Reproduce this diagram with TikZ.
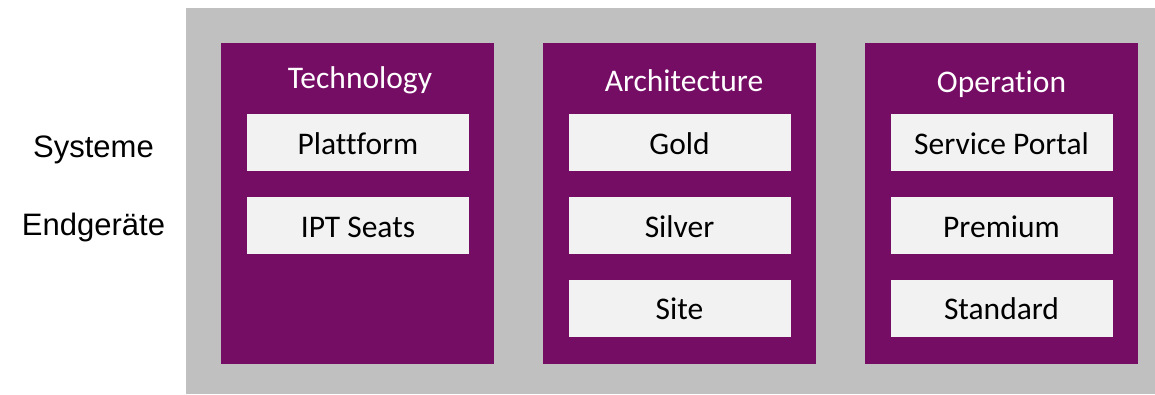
\documentclass[tikz,border=0pt]{standalone}
\usepackage{fontspec}
\setmainfont{Carlito}[Ligatures={NoCommon}]
\newfontfamily\arialfont{Liberation Sans}
\definecolor{bggray}{RGB}{192,192,192}
\definecolor{purp}{RGB}{118,13,101}
\definecolor{lightbox}{RGB}{242,242,242}
\begin{document}
\begin{tikzpicture}[x=1pt,y=-1pt,
  panel/.style={fill=purp, draw=none, inner sep=0pt, minimum width=273pt, minimum height=321pt},
  item/.style={fill=lightbox, draw=none, inner sep=0pt, minimum width=222pt, minimum height=57pt,
    font=\fontsize{31.5}{38}\selectfont, text height=23pt, text depth=0pt},
  title/.style={text=white, font=\fontsize{31.5}{38}\selectfont, anchor=base, inner sep=0pt},
  side/.style={font=\arialfont\fontsize{31}{37}\selectfont, anchor=base, inner sep=0pt}]
\useasboundingbox (0,0) rectangle (1155,394);
\node[fill=bggray, inner sep=0pt, minimum width=969pt, minimum height=386pt] (bg) at (670.5,201) {};
\node[panel] (p1) at (357.5,203.5) {};
\node[panel] (p2) at (679.5,203.5) {};
\node[panel] (p3) at (1001.5,203.5) {};
\node[title] (t1) at (360,88) {Technology};
\node[title] (t2) at (684,91) {Architecture};
\node[title] (t3) at (1001.5,92) {Operation};
\node[item] (a1) at (358,142.5) {Plattform};
\node[item] (a2) at (358,225.5) {IPT Seats};
\node[item] (b1) at (679.5,142.5) {Gold};
\node[item] (b2) at (679.5,225.5) {Silver};
\node[item] (b3) at (679.5,308) {Site};
\node[item] (c1) at (1001.5,142.5) {Service Portal};
\node[item] (c2) at (1001.5,225.5) {Premium};
\node[item] (c3) at (1001.5,308) {Standard};
\node[side] (s1) at (93.5,157) {Systeme};
\node[side] (s2) at (93.5,235) {Endgeräte};
\end{tikzpicture}
\end{document}
